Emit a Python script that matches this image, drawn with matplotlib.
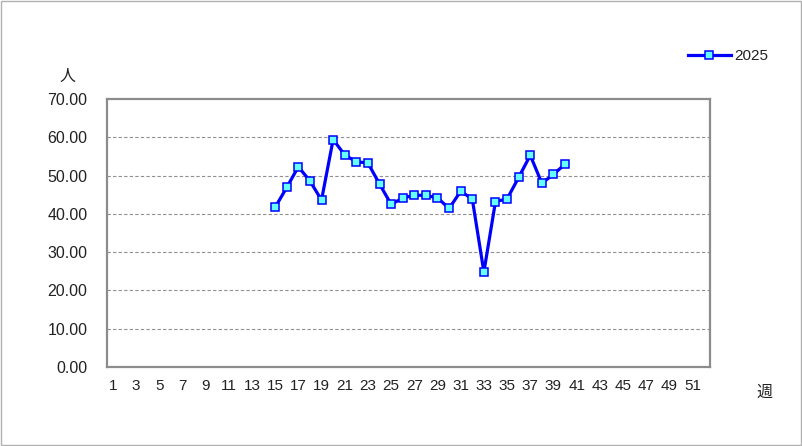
import matplotlib
matplotlib.use("Agg")
import matplotlib.pyplot as plt
from matplotlib.patches import Rectangle

plt.rcParams['font.family'] = ['Liberation Sans Narrow', 'Liberation Sans', 'Noto Sans CJK JP', 'DejaVu Sans']

weeks = list(range(15, 41))
values_2025 = [41.7, 46.9, 52.3, 48.6, 43.6, 59.4, 55.4, 53.6, 53.3, 47.8,
               42.5, 44.1, 44.9, 44.8, 44.2, 41.4, 45.9, 43.9, 24.8, 43.2,
               43.9, 49.5, 55.3, 48.0, 50.3, 53.0]
series_label = "2025"
xtick_labels = [str(w) for w in range(1, 52, 2)]
yticks = [0, 10, 20, 30, 40, 50, 60, 70]

fig = plt.figure(figsize=(8.02, 4.46), dpi=100)
fig.patches.append(Rectangle((0.0015, 0.002), 0.997, 0.995, transform=fig.transFigure,
                             fill=False, edgecolor='#b0b0b0', linewidth=1))
ax = fig.add_axes([107/802, 1-367/446, (710-107)/802, (367-99)/446])

ax.plot(weeks, values_2025, color='#0000ff', linewidth=2.3, marker='s',
        markersize=6.2, markerfacecolor='#66ffff', markeredgecolor='#0000ff',
        markeredgewidth=1.1, label=series_label, zorder=3)

ax.set_xlim(0.5, 52.5)
ax.set_ylim(0, 70)
ax.set_xticks(range(1, 52, 2))
ax.set_xticklabels(xtick_labels)
ax.set_yticks(yticks)
ax.set_yticklabels([f"{v:.2f}" for v in yticks])
ax.tick_params(axis='both', length=0, labelsize=11.5, colors='#222222')
ax.tick_params(axis='y', pad=14)
ax.tick_params(axis='x', pad=9)
for lbl in ax.get_xticklabels():
    lbl.set_fontsize(11)

for v in yticks[1:-1]:
    ax.axhline(v, color='#909090', linewidth=0.8, linestyle=(0, (3, 2)), zorder=1)

for s in ax.spines.values():
    s.set_color('#8c8c8c')
    s.set_linewidth(1.6)

fig.text(67/802, 1-76/446, "人", family=['Noto Sans CJK JP'], fontsize=11.5,
         ha='center', va='center', color='#222222')
fig.text(764/802, 1-392/446, "週", family=['Noto Sans CJK JP'], fontsize=11.5,
         ha='center', va='center', color='#222222')

leg = fig.legend(loc='center', bbox_to_anchor=(728/802, 1-56/446), frameon=False,
                 fontsize=11, handlelength=2.8, handletextpad=0.2, borderpad=0)
for t in leg.get_texts():
    t.set_color('#222222')

fig.savefig("out.png", dpi=100)
